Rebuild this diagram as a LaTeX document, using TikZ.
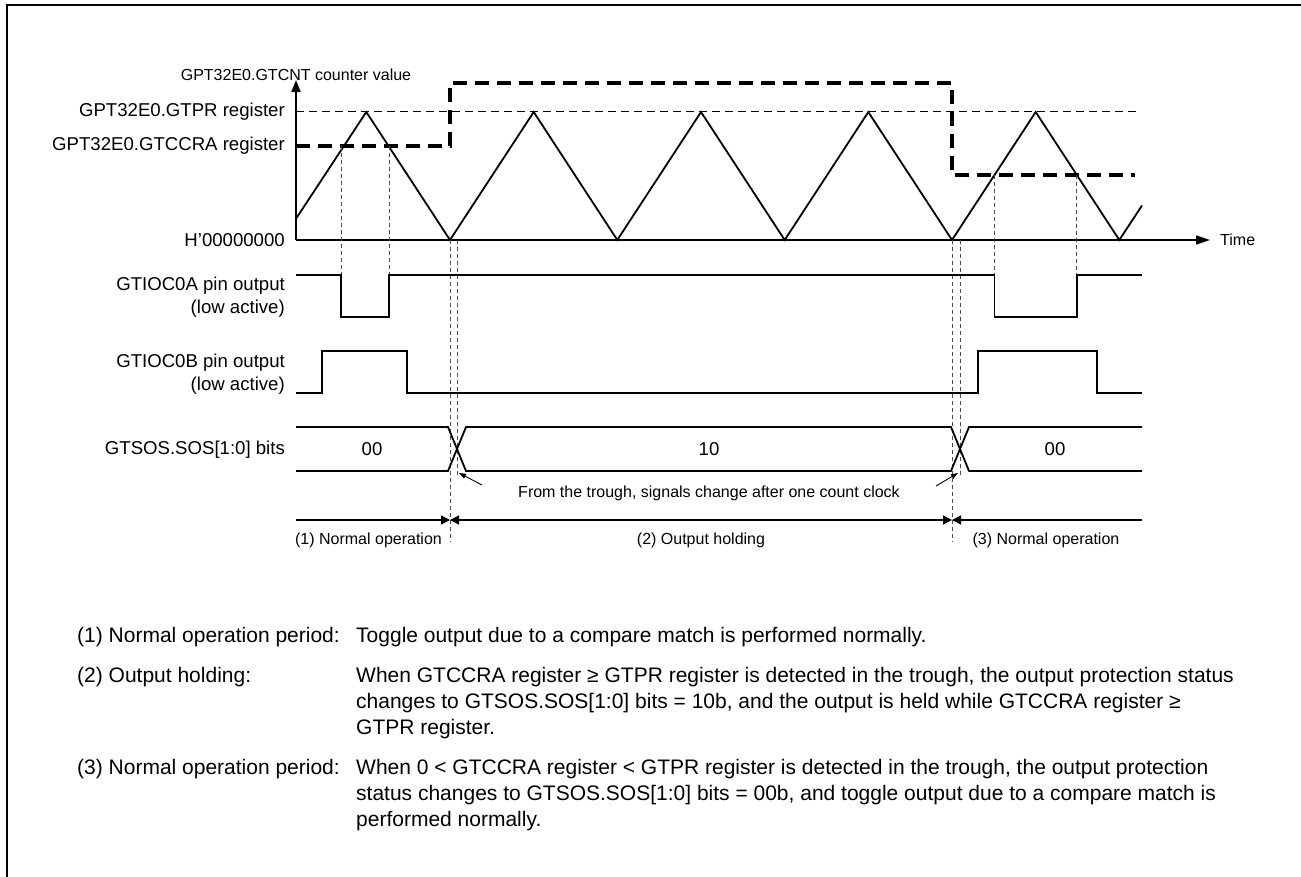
\documentclass[tikz,border=0pt]{standalone}
\usepackage{fontspec}
\setmainfont{Liberation Sans}
\usetikzlibrary{arrows.meta}

\newcommand{\lblfont}{\fontsize{18.6}{23}\selectfont}
\newcommand{\smlfont}{\fontsize{16}{19}\selectfont}
\newcommand{\txtfont}{\fontsize{21}{26}\selectfont}

\begin{document}
\begin{tikzpicture}[x=1pt, y=-1pt, >={Triangle[length=9pt,width=9pt]},
    sig/.style={line width=1.8pt},
    cmpreg/.style={line width=4.5pt, dash pattern=on 14pt off 8pt},
    prreg/.style={line width=1pt, dash pattern=on 8pt off 5pt},
    guide/.style={line width=0.9pt, gray!60!black, dash pattern=on 4pt off 3pt},
    lbl/.style={font=\lblfont, inner sep=0pt, anchor=east, align=right},
    sml/.style={font=\smlfont, inner sep=0pt},
    desc/.style={font=\txtfont, inner sep=0pt, anchor=north west, align=left}]
    \useasboundingbox (0,0) rectangle (1301,877);

    % frame
    \draw[line width=2.5pt] (7,877) -- (7,5) -- (1301,5);

    % axes
    \coordinate (o) at (296,240);
    \draw[sig, -{Triangle[length=12pt,width=9pt]}] (o) -- (296,80);
    \draw[sig, -{Triangle[length=14pt,width=9pt]}] (o) -- (1210,240);
    \node[sml] (lcnt) at (296,75) {GPT32E0.GTCNT counter value};
    \node[sml, anchor=west] (ltime) at (1220,240) {Time};
    \node[lbl] (lpr) at (285,112) {GPT32E0.GTPR register};
    \node[lbl] (lccra) at (285,146) {GPT32E0.GTCCRA register};
    \node[lbl] (lzero) at (285,240) {H’00000000};

    % GTPR and GTCCRA levels
    \draw[prreg] (296,112) -- (1137,112);
    \draw[cmpreg] (296,146) -- (450,146) -- (450,83) -- (952,83) -- (952,175) -- (1135,175);

    % counter
    \draw[sig, line join=miter] (296,218.7) -- (366.3,112) -- (450,240) -- (533.7,112)
      -- (617.3,240) -- (701,112) -- (784.7,240) -- (868.3,112) -- (952,240)
      -- (1035.7,112) -- (1119.3,240) -- (1142,205.5);

    % guide lines
    \draw[guide] (341,146) -- (341,275);
    \draw[guide] (389,146) -- (389,275);
    \draw[guide] (994.4,175) -- (994.4,275);
    \draw[guide] (1076.6,175) -- (1076.6,275);
    \draw[guide] (450,240) -- (450,542);
    \draw[guide] (457,240) -- (457,477);
    \draw[guide] (952,240) -- (952,542);
    \draw[guide] (960,240) -- (960,477);

    % pin outputs
    \node[lbl] (la) at (285,297.5) {GTIOC0A pin output\\(low active)};
    \draw[sig] (296,275) -- (341,275) -- (341,317) -- (389,317) -- (389,275)
      -- (994.4,275) -- (994.4,317) -- (1076.6,317) -- (1076.6,275) -- (1142,275);

    \node[lbl] (lb) at (285,374) {GTIOC0B pin output\\(low active)};
    \draw[sig] (296,393) -- (322,393) -- (322,351) -- (407,351) -- (407,393)
      -- (978,393) -- (978,351) -- (1097,351) -- (1097,393) -- (1142,393);

    % output protection status
    \node[lbl] (lsos) at (285,450) {GTSOS.SOS[1:0] bits};
    \draw[sig] (296,427) -- (448,427) -- (466,471) -- (951,471) -- (969,427) -- (1142,427);
    \draw[sig] (296,471) -- (448,471) -- (466,427) -- (951,427) -- (969,471) -- (1142,471);
    \node[font=\lblfont, inner sep=0pt] (v1) at (372,449) {00};
    \node[font=\lblfont, inner sep=0pt] (v2) at (709,449) {10};
    \node[font=\lblfont, inner sep=0pt] (v3) at (1055,449) {00};

    \node[sml] (note) at (709,493) {From the trough, signals change after one count clock};
    \coordinate (x1) at (459,473);
    \coordinate (x2) at (958,473);
    \draw[line width=0.9pt, -{Triangle[length=7pt,width=5pt]}] ([xshift=-36pt,yshift=8pt]note.west) -- (x1);
    \draw[line width=0.9pt, -{Triangle[length=7pt,width=5pt]}] ([xshift=36pt,yshift=7pt]note.east) -- (x2);

    % periods
    \coordinate (m0) at (296,520);
    \coordinate (m1) at (450,520);
    \coordinate (m2) at (952,520);
    \coordinate (m3) at (1142,520);
    \draw[line width=1.3pt, ->] (m0) -- (m1);
    \draw[line width=1.3pt, <->] (m1) -- (m2);
    \draw[line width=1.3pt, ->] (m3) -- (m2);
    \node[sml] (p1) at (368.5,540) {(1) Normal operation};
    \node[sml] (p2) at (701,540) {(2) Output holding};
    \node[sml] (p3) at (1046,540) {(3) Normal operation};

    % description
    \node[desc] (d1) at (77,627) {(1) Normal operation period:};
    \node[desc] (d1t) at (356,627) {Toggle output due to a compare match is performed normally.};
    \node[desc] (d2) at (77,667) {(2) Output holding:};
    \node[desc] (d2t) at (356,667) {When GTCCRA register ≥ GTPR register is detected in the trough, the output protection status\\changes to GTSOS.SOS[1:0] bits = 10b, and the output is held while GTCCRA register ≥\\GTPR register.};
    \node[desc] (d3) at (77,759) {(3) Normal operation period:};
    \node[desc] (d3t) at (356,759) {When 0 < GTCCRA register < GTPR register is detected in the trough, the output protection\\status changes to GTSOS.SOS[1:0] bits = 00b, and toggle output due to a compare match is\\performed normally.};
  \end{tikzpicture}
\end{document}
